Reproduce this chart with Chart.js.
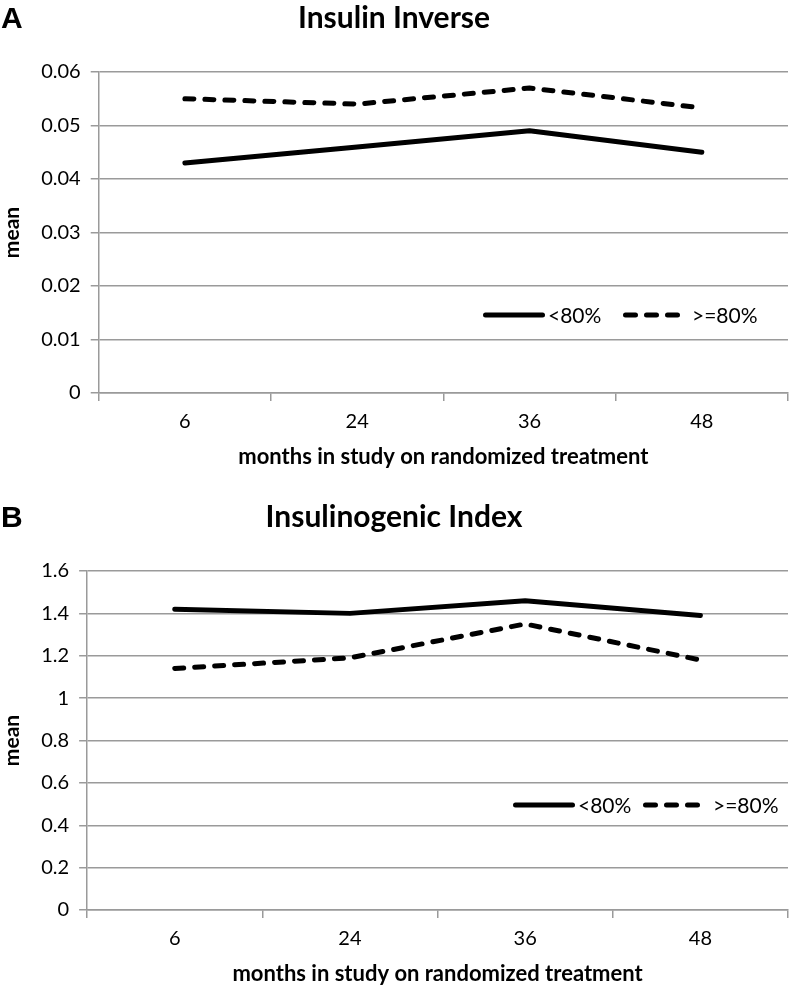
<!DOCTYPE html>
<html lang="en">
  <head>
    <meta charset="UTF-8" />
    <title>Insulin Inverse / Insulinogenic Index</title>
    <style>
      body { margin: 0; background: #fff; }
      .panel { position: absolute; left: 0; width: 790px; }
      .tag {
        position: absolute; left: 1px;
        font: bold 30px "Liberation Sans", Arial, sans-serif;
        line-height: 30px; color: #000;
      }
      canvas { display: block; }
    </style>
  </head>
  <body>
    <div class="panel" style="top: 0; height: 499px">
      <canvas id="chartA" width="790" height="499"></canvas>
    </div>
    <div class="panel" style="top: 499px; height: 486px">
      <canvas id="chartB" width="790" height="486"></canvas>
    </div>
    <div class="tag" style="top: 3px">A</div>
    <div class="tag" style="top: 502px">B</div>

    <script src="https://cdn.jsdelivr.net/npm/chart.js"></script>
    <script>
      // data
      const months = ["6", "24", "36", "48"];
      const seriesNames = ["<80%", ">=80%"];

      const inverseLow = [0.043, 0.046, 0.049, 0.045];
      const inverseHigh = [0.055, 0.054, 0.057, 0.0533];
      const inverseTicks = ["0", "0.01", "0.02", "0.03", "0.04", "0.05", "0.06"];

      const indexLow = [1.42, 1.40, 1.46, 1.39];
      const indexHigh = [1.14, 1.19, 1.35, 1.18];
      const indexTicks = ["0", "0.2", "0.4", "0.6", "0.8", "1", "1.2", "1.4", "1.6"];

      const FONT = "Lato";
      const GRID = "#9a9a9a";

      // legend drawn inside the plot, like the excel original
      const insideLegend = {
        id: "insideLegend",
        afterDatasetsDraw(chart, args, opts) {
          const ctx = chart.ctx;
          ctx.save();
          ctx.font = "21px " + FONT;
          ctx.fillStyle = "#000";
          ctx.strokeStyle = "#000";
          ctx.textBaseline = "middle";
          chart.data.datasets.forEach((ds, i) => {
            const it = opts.items[i];
            ctx.beginPath();
            ctx.lineWidth = 5;
            ctx.lineCap = "round";
            ctx.setLineDash(i === 0 ? [] : [10, 11]);
            ctx.moveTo(it.x + 2.5, opts.y);
            ctx.lineTo(it.x + it.w - 2.5, opts.y);
            ctx.stroke();
            ctx.setLineDash([]);
            ctx.fillText(ds.label, it.x + it.w + it.gap, opts.y + 1);
          });
          ctx.restore();
        },
      };

      function makeChart(id, low, high, yMax, yStep, tickLabels, title, legend, pad) {
        const ctx = document.getElementById(id).getContext("2d");
        return new Chart(ctx, {
          type: "line",
          data: {
            labels: months,
            datasets: [
              {
                label: seriesNames[0],
                data: low,
                borderColor: "#000",
                borderWidth: 5,
                borderCapStyle: "round",
                borderJoinStyle: "round",
                pointRadius: 0,
                tension: 0,
              },
              {
                label: seriesNames[1],
                data: high,
                borderColor: "#000",
                borderWidth: 5,
                borderDash: [9, 11],
                borderCapStyle: "round",
                borderJoinStyle: "round",
                pointRadius: 0,
                tension: 0,
              },
            ],
          },
          options: {
            responsive: false,
            animation: false,
            layout: { padding: pad },
            plugins: {
              legend: { display: false },
              tooltip: { enabled: false },
              title: {
                display: true,
                text: title,
                color: "#000",
                font: { family: FONT, size: 30, weight: "bold" },
                padding: { top: 0, bottom: 36 },
              },
              insideLegend: legend,
            },
            scales: {
              x: {
                offset: true,
                grid: {
                  offset: true,
                  drawOnChartArea: false,
                  drawTicks: true,
                  tickLength: 8,
                  color: GRID,
                  lineWidth: 1.5,
                },
                border: { color: GRID, width: 1.5 },
                ticks: {
                  color: "#000",
                  padding: 9,
                  font: { family: FONT, size: 20 },
                },
                title: {
                  display: true,
                  text: "months in study on randomized treatment",
                  color: "#000",
                  font: { family: FONT, size: 22, weight: "bold", lineHeight: 1 },
                  padding: { top: 3, bottom: 0 },
                },
              },
              y: {
                min: 0,
                max: yMax,
                grid: {
                  color: GRID,
                  lineWidth: 1.5,
                  tickLength: 8,
                },
                border: { color: GRID, width: 1.5 },
                ticks: {
                  stepSize: yStep,
                  color: "#000",
                  padding: 10,
                  font: { family: FONT, size: 20 },
                  callback: (v, i) => tickLabels[i],
                },
                title: {
                  display: true,
                  text: "mean",
                  color: "#000",
                  font: { family: FONT, size: 21, weight: "bold" },
                  padding: { top: 0, bottom: 6 },
                },
              },
            },
          },
          plugins: [insideLegend],
        });
      }

      makeChart(
        "chartA", inverseLow, inverseHigh, 0.06, 0.01, inverseTicks,
        "Insulin Inverse",
        { y: 315, items: [{ x: 483, w: 62, gap: 3 }, { x: 623, w: 57, gap: 12 }] },
        { left: 0, right: 2, top: 0, bottom: 31 }
      );

      makeChart(
        "chartB", indexLow, indexHigh, 1.6, 0.2, indexTicks,
        "Insulinogenic Index",
        { y: 306, items: [{ x: 513, w: 62, gap: 3 }, { x: 643, w: 57, gap: 13 }] },
        { left: 0, right: 2, top: 0, bottom: 0 }
      );
    </script>
  </body>
</html>
